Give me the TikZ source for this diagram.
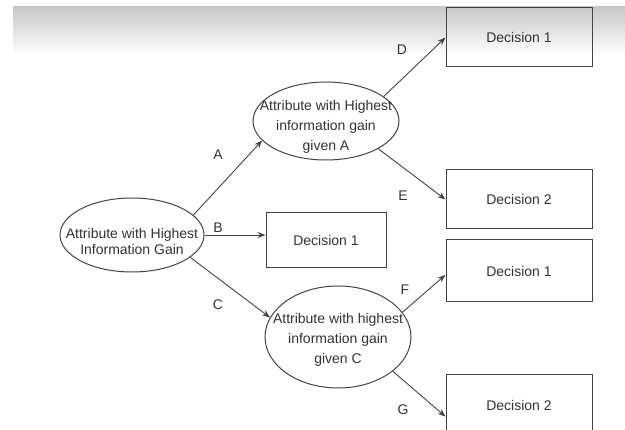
\documentclass[tikz,border=0pt]{standalone}
\usepackage{fontspec}
\setmainfont{Liberation Sans}
\usetikzlibrary{shapes.geometric,arrows.meta}
\definecolor{ink}{HTML}{333333}
\definecolor{edge}{HTML}{444444}
\tikzset{
  attr/.style={ellipse, draw=edge, line width=1pt, inner sep=0pt},
  attrtext/.style={inner sep=0pt, align=center, text=ink},
  decbox/.style={rectangle, draw=edge, line width=1pt, minimum width=146pt, minimum height=59pt, inner sep=0pt, text=ink, font=\fontsize{14}{16}\selectfont},
  conn/.style={draw=edge, line width=0.9pt, -{Stealth[length=8pt,width=6pt]}},
  lab/.style={inner sep=0pt, text=ink, font=\fontsize{14}{16}\selectfont}
}
\begin{document}
\begin{tikzpicture}[x=1pt,y=-1pt]
\useasboundingbox (0,0) rectangle (625,430);
\clip (0,0) rectangle (625,430);
\fill[white] (0,0) rectangle (625,430);
\shade[top color=black!22, bottom color=white] (13,7) rectangle (625,55);

% ellipses
\node[attr, minimum width=144pt, minimum height=74pt] (root) at (132,235) {};
\node[attrtext, font=\fontsize{14}{16}\selectfont] (roott) at (132,241) {Attribute with Highest\\Information Gain};
\node[attr, minimum width=146pt, minimum height=78pt] (ea) at (326,121) {};
\node[attrtext, font=\fontsize{14}{20}\selectfont] (eat) at (326,127) {Attribute with Highest\\information gain\\given A};
\node[attr, minimum width=146pt, minimum height=102pt] (ec) at (338,337) {};
\node[attrtext, font=\fontsize{14}{20}\selectfont] (ect) at (338,340) {Attribute with highest\\information gain\\given C};

% decision boxes
\node[decbox] (da1) at (519,37.5) {Decision 1};
\node[decbox] (da2) at (519,199.5) {Decision 2};
\node[decbox, minimum height=62pt] (dc1) at (519,271) {Decision 1};
\node[decbox, minimum height=60pt] (dc2) at (519,405) {Decision 2};
\node[decbox, minimum width=120pt, minimum height=55pt] (db) at (326,240.5) {Decision 1};

% connectors
\draw[conn] (root.18) -- (ea.197);
\draw[conn] (root.east) -- (root.east -| db.west);
\draw[conn] (root.-21) -- (ec.164);
\draw[conn] (ea.23) -- (da1.west);
\draw[conn] (ea.-28) -- (da2.west);
\draw[conn] (ec.21) -- (dc1.183);
\draw[conn] (ec.-32) -- (dc2.189);

% labels
\node[lab] (la) at (218,155) {A};
\node[lab] (lb) at (218,228) {B};
\node[lab] (lc) at (218,305) {C};
\node[lab] (ld) at (402,50) {D};
\node[lab] (le) at (403,196) {E};
\node[lab] (lf) at (405,290) {F};
\node[lab] (lg) at (403,410) {G};
\end{tikzpicture}
\end{document}
